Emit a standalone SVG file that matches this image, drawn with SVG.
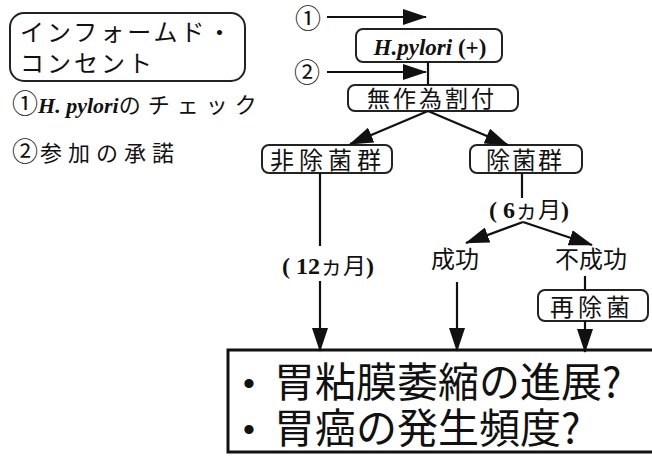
<svg xmlns="http://www.w3.org/2000/svg" width="652" height="459" viewBox="0 0 652 459">
<style>
.bx{fill:#fff;stroke:#222;stroke-width:2}
.ln{fill:none;stroke:#111;stroke-width:2.2}
.jp{font-family:"Noto Sans CJK JP","Noto Sans",sans-serif;fill:#111}
.sr{font-family:"Liberation Serif","Noto Sans CJK JP",serif;fill:#111}
.cn{font-family:"Noto Sans CJK JP",sans-serif;font-size:26px;fill:#111}
.bl{font-family:"Liberation Sans",sans-serif;font-size:34px;fill:#111}
</style>
<defs>
<marker id="ah" markerUnits="userSpaceOnUse" markerWidth="24" markerHeight="16" refX="23" refY="8" orient="auto">
<path d="M0,0 L24,8 L0,16 Z" fill="#111"/>
</marker>
</defs>
<rect width="652" height="459" fill="#fff"/>

<g id="consent">
<rect class="bx" x="10" y="13" width="235" height="68" rx="14"/>
<text class="jp" x="20" y="41" font-size="24" letter-spacing="3">インフォームド・</text>
<text class="jp" x="20" y="72" font-size="24" letter-spacing="3">コンセント</text>
</g>
<g id="legend">
<text class="sr" x="12" y="113" font-size="22"><tspan class="cn">①</tspan><tspan font-weight="bold" font-style="italic">H. pylori</tspan><tspan class="jp" font-size="22" letter-spacing="7">のチェック</tspan></text>
<text class="jp" x="12" y="161" font-size="22" letter-spacing="6"><tspan class="cn" letter-spacing="2">②</tspan>参加の承諾</text>
</g>

<g id="labels">
<text class="cn" x="295" y="28" font-size="22">①</text>
<text class="cn" x="294" y="82">②</text>
</g>

<g id="hpylori">
<rect class="bx" x="356" y="29" width="146" height="33" rx="7"/>
<text class="sr" x="430" y="55" font-size="23" font-weight="bold" text-anchor="middle"><tspan font-style="italic">H.pylori</tspan> (+)</text>
</g>
<g id="random">
<rect class="bx" x="348" y="85" width="170" height="26" rx="7"/>
<text class="jp" x="432" y="107" font-size="23" letter-spacing="3" text-anchor="middle">無作為割付</text>
</g>
<g id="nonerad">
<rect class="bx" x="262" y="145" width="130" height="28" rx="7"/>
<text class="jp" x="328" y="169" font-size="24" letter-spacing="5" text-anchor="middle">非除菌群</text>
</g>
<g id="erad">
<rect class="bx" x="470" y="145" width="112" height="28" rx="7"/>
<text class="jp" x="525" y="169" font-size="24" letter-spacing="2" text-anchor="middle">除菌群</text>
</g>
<g id="m6">
<text class="sr" x="529" y="218" font-size="24" font-weight="bold" text-anchor="middle">( <tspan>6</tspan><tspan class="jp" font-weight="normal" font-size="23">ヵ月</tspan>)</text>
</g>
<g id="m12">
<text class="sr" x="328" y="274" font-size="24" font-weight="bold" text-anchor="middle">( <tspan>12</tspan><tspan class="jp" font-weight="normal" font-size="23">ヵ月</tspan>)</text>
</g>
<g id="success">
<text class="jp" x="455" y="268" font-size="24" text-anchor="middle">成功</text>
</g>
<g id="fail">
<text class="jp" x="591" y="268" font-size="24" text-anchor="middle">不成功</text>
</g>
<g id="reerad">
<rect class="bx" x="538" y="290" width="110" height="31" rx="7"/>
<text class="jp" x="592" y="316" font-size="24" letter-spacing="4" text-anchor="middle">再除菌</text>
</g>
<g id="outcome">
<rect x="228" y="350" width="430" height="102" fill="#fff" stroke="#111" stroke-width="3"/>
<text class="bl" x="243" y="395">•</text>
<text class="jp" x="274" y="397" font-size="41">胃粘膜萎縮の進展?</text>
<text class="bl" x="243" y="441">•</text>
<text class="jp" x="274" y="443" font-size="41">胃癌の発生頻度?</text>
</g>

<g id="connectors">
<line class="ln" x1="327" y1="17" x2="426" y2="17" marker-end="url(#ah)"/>
<line class="ln" x1="327" y1="72" x2="426" y2="72" marker-end="url(#ah)"/>
<line class="ln" x1="428" y1="62" x2="428" y2="85"/>
<line class="ln" x1="428" y1="111" x2="350" y2="144" marker-end="url(#ah)"/>
<line class="ln" x1="428" y1="111" x2="508" y2="145" marker-end="url(#ah)"/>
<line class="ln" x1="320" y1="173" x2="320" y2="246"/>
<line class="ln" x1="320" y1="281" x2="320" y2="351" marker-end="url(#ah)"/>
<line class="ln" x1="522" y1="173" x2="522" y2="198"/>
<line class="ln" x1="523" y1="222" x2="466" y2="243" marker-end="url(#ah)"/>
<line class="ln" x1="523" y1="222" x2="592" y2="245" marker-end="url(#ah)"/>
<line class="ln" x1="457" y1="282" x2="457" y2="351" marker-end="url(#ah)"/>
<line class="ln" x1="585" y1="276" x2="585" y2="290"/>
<line class="ln" x1="585" y1="321" x2="585" y2="352" marker-end="url(#ah)"/>
</g>
</svg>
